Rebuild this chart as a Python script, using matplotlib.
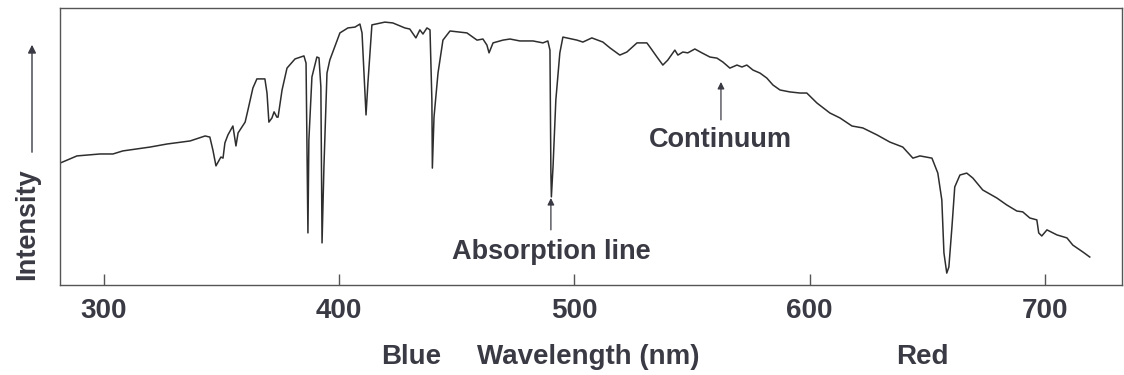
import numpy as np
import matplotlib.pyplot as plt
from matplotlib.patches import FancyArrowPatch

# ----- Spectrum data ----- #
# wavelength in nm, intensity in arbitrary units (0 = bottom of box, 1 = top)
wavelength = [281.3, 288.5, 298.3, 303.8, 308.0, 319.6, 326.8, 336.6, 343.0, 345.0,
              346.3, 347.6, 348.5, 349.7, 350.6, 351.4, 352.7, 354.8, 356.1, 357.0,
              360.0, 361.2, 363.3, 365.0, 368.4, 369.3, 370.1, 371.4, 372.3, 373.5,
              374.0, 375.7, 377.8, 381.2, 385.0, 385.9, 386.3, 386.7, 387.1, 388.4,
              390.5, 391.4, 392.2, 392.7, 393.5, 394.8, 396.0, 400.3, 403.7, 406.7,
              408.8, 409.7, 411.4, 412.2, 413.9, 419.4, 422.8, 427.9, 430.0, 432.6,
              434.3, 435.6, 437.3, 438.6, 439.4, 439.6, 440.3, 442.0, 444.1, 447.1,
              451.3, 454.3, 458.6, 461.1, 462.8, 463.7, 465.4, 469.6, 472.6, 476.8,
              482.4, 486.6, 488.7, 489.6, 490.0, 490.2, 490.9, 492.1, 493.8, 495.1,
              501.1, 503.6, 507.4, 512.1, 515.1, 519.3, 522.3, 526.6, 530.8, 532.1,
              535.1, 537.6, 539.7, 542.7, 544.0, 546.1, 548.2, 551.2, 554.2, 557.6,
              560.6, 563.1, 566.1, 569.1, 571.2, 573.3, 575.9, 578.9, 581.8, 584.4,
              587.4, 591.6, 595.9, 598.8, 603.1, 608.6, 612.9, 618.0, 622.6, 628.6,
              634.1, 639.6, 643.9, 646.9, 652.0, 654.5, 656.2, 657.1, 658.3, 659.2,
              660.5, 661.7, 663.9, 666.8, 669.4, 673.6, 679.6, 683.8, 688.1, 690.6,
              693.6, 696.6, 697.4, 698.7, 700.9, 705.1, 709.4, 711.9, 716.2, 719.1]
intensity = [0.440, 0.466, 0.473, 0.473, 0.484, 0.498, 0.509, 0.520, 0.538, 0.534,
             0.487, 0.430, 0.444, 0.462, 0.458, 0.513, 0.542, 0.574, 0.502, 0.549,
             0.588, 0.632, 0.711, 0.744, 0.744, 0.693, 0.588, 0.603, 0.625, 0.606,
             0.606, 0.704, 0.783, 0.816, 0.827, 0.801, 0.487, 0.188, 0.523, 0.751,
             0.823, 0.820, 0.715, 0.152, 0.426, 0.765, 0.812, 0.910, 0.928, 0.931,
             0.942, 0.910, 0.614, 0.729, 0.939, 0.949, 0.946, 0.928, 0.924, 0.892,
             0.921, 0.906, 0.928, 0.921, 0.668, 0.422, 0.606, 0.765, 0.884, 0.917,
             0.913, 0.910, 0.884, 0.888, 0.866, 0.838, 0.874, 0.884, 0.888, 0.881,
             0.881, 0.874, 0.881, 0.848, 0.404, 0.318, 0.426, 0.668, 0.838, 0.895,
             0.884, 0.877, 0.892, 0.877, 0.856, 0.830, 0.841, 0.874, 0.874, 0.859,
             0.823, 0.794, 0.812, 0.848, 0.830, 0.841, 0.838, 0.852, 0.838, 0.823,
             0.819, 0.805, 0.783, 0.794, 0.787, 0.794, 0.776, 0.765, 0.747, 0.722,
             0.704, 0.697, 0.693, 0.693, 0.657, 0.621, 0.603, 0.574, 0.567, 0.542,
             0.516, 0.498, 0.458, 0.466, 0.458, 0.404, 0.307, 0.116, 0.043, 0.065,
             0.209, 0.354, 0.397, 0.404, 0.386, 0.343, 0.314, 0.289, 0.267, 0.264,
             0.242, 0.235, 0.188, 0.177, 0.199, 0.181, 0.170, 0.144, 0.119, 0.101]

xticks = [300, 400, 500, 600, 700]

# ----- Figure stuff ----- #
plt.rcParams['font.family'] = ['Liberation Sans', 'DejaVu Sans']
plt.rcParams['font.weight'] = 'bold'
ink = '#3a3a44'

fig = plt.figure(figsize=(11.24, 3.75), dpi=100)
ax = fig.add_axes([0.0534, 0.24, 0.9446, 0.7387])

ax.plot(wavelength, intensity, color='#2e2e2e', lw=1.1)

ax.set_xlim(281.3, 732.7)
ax.set_ylim(0, 1)
ax.set_xticks(xticks)
ax.set_xticklabels([str(t) for t in xticks], fontsize=20, color=ink)
ax.set_yticks([])
ax.tick_params(axis='x', direction='in', length=8, width=1, color='#555555', pad=9)
for s in ax.spines.values():
    s.set_color('#555555')
    s.set_linewidth(1)

# annotations
arrow = dict(arrowstyle='-|>', color=ink, lw=0.9, mutation_scale=10, shrinkA=0, shrinkB=0)
ax.annotate('', xy=(562.3, 0.733), xytext=(562.3, 0.596), arrowprops=arrow)
ax.text(562.0, 0.523, 'Continuum', fontsize=19.5, color=ink, ha='center', va='center')
ax.annotate('', xy=(490.0, 0.314), xytext=(490.0, 0.199), arrowprops=arrow)
ax.text(490.0, 0.119, 'Absorption line', fontsize=19.5, color=ink, ha='center', va='center')

# axis labels
fig.text(411 / 1124, 1 - 357 / 375, 'Blue', fontsize=20, color=ink, ha='center', va='center')
fig.text(588 / 1124, 1 - 357 / 375, 'Wavelength (nm)', fontsize=20, color=ink, ha='center', va='center')
fig.text(922 / 1124, 1 - 357 / 375, 'Red', fontsize=20, color=ink, ha='center', va='center')
fig.text(27 / 1124, 1 - 224 / 375, 'Intensity', fontsize=19.5, color=ink, rotation=90,
         ha='center', va='center')
fig.patches.append(FancyArrowPatch(
    (32 / 1124, 1 - 155 / 375), (32 / 1124, 1 - 42 / 375), transform=fig.transFigure,
    arrowstyle='-|>', mutation_scale=12, color=ink, lw=1.0))

plt.savefig('out.png', dpi=100)
